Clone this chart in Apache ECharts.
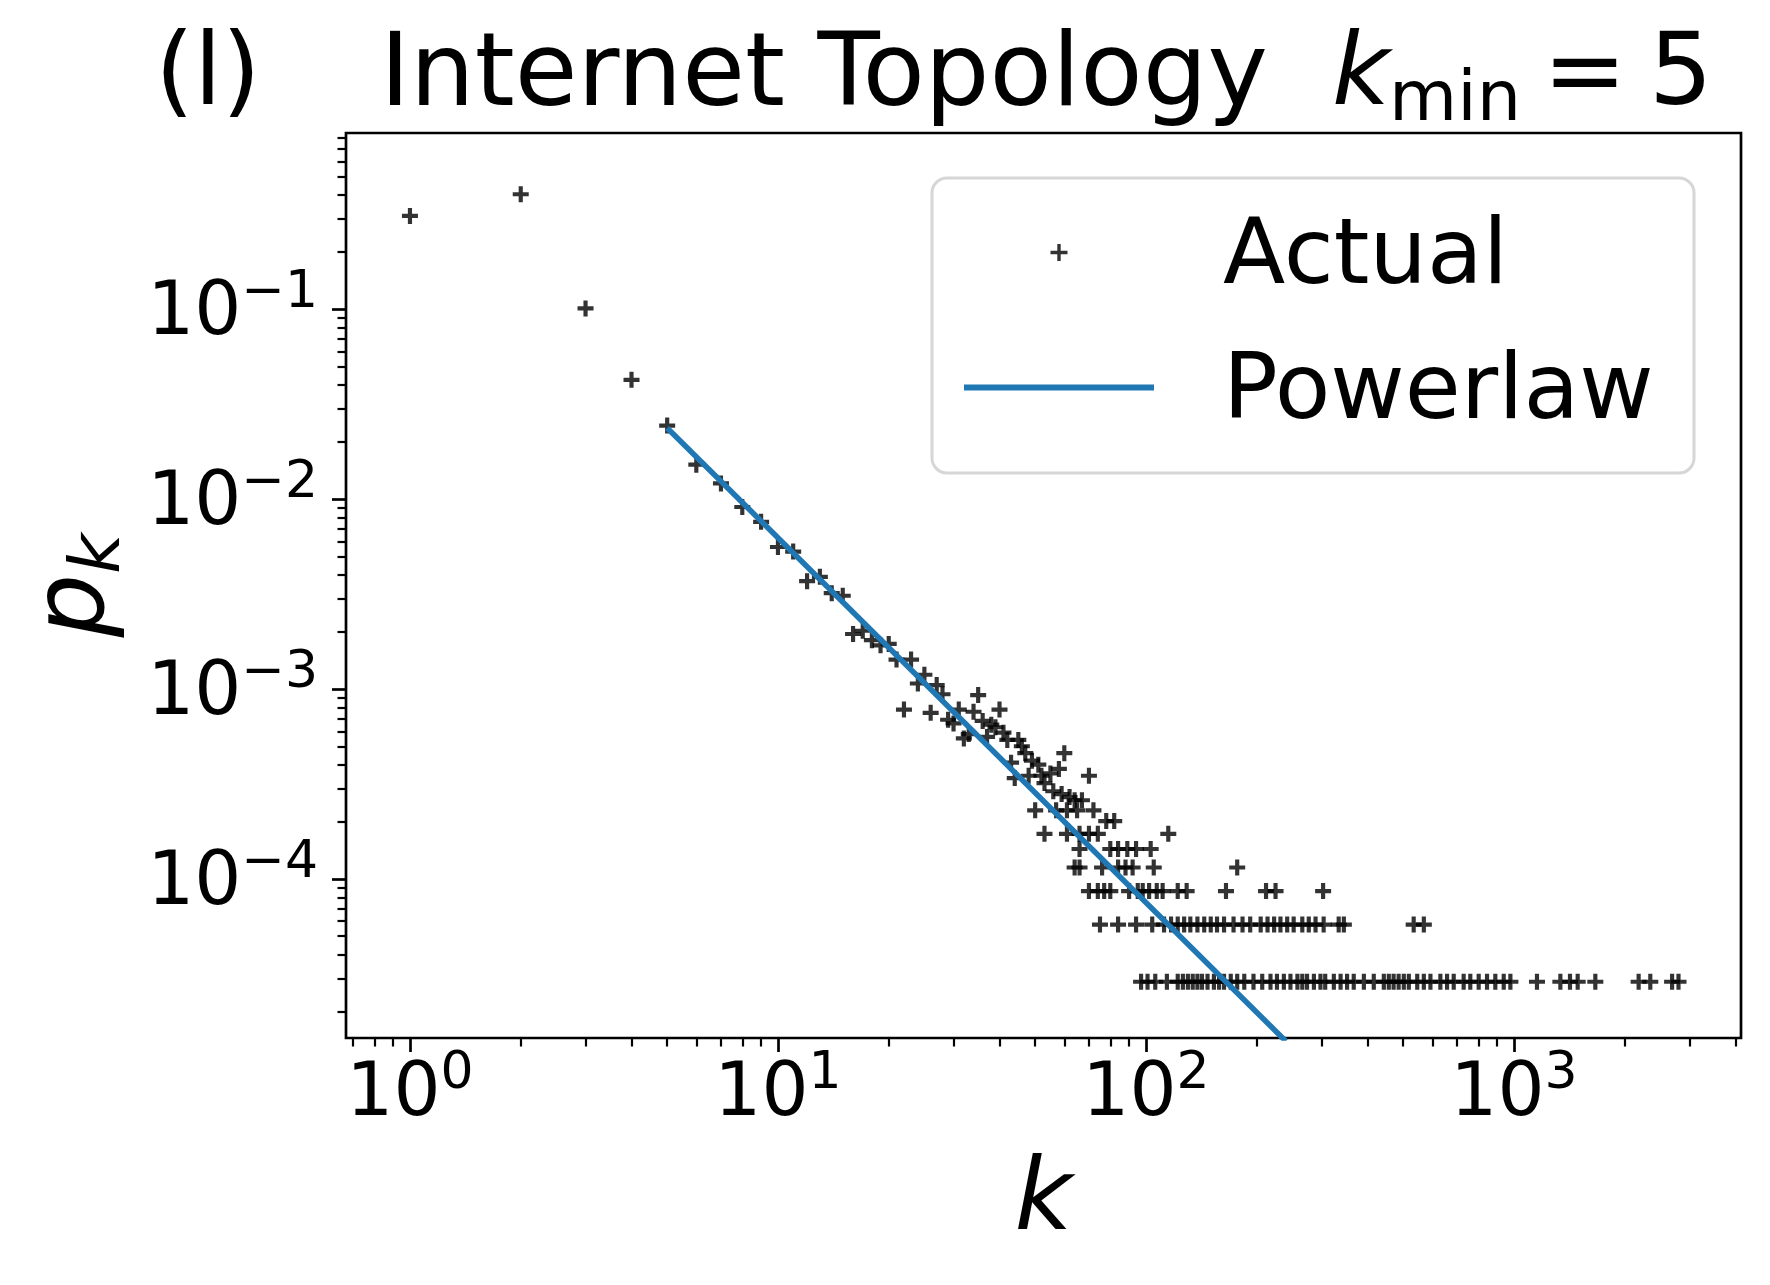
<!DOCTYPE html>
<html>
<head>
<meta charset="utf-8">
<title>Internet Topology kmin = 5</title>
<script src="https://cdn.jsdelivr.net/npm/echarts@6.0.0/dist/echarts.min.js"></script>
<style>
  html, body { margin: 0; padding: 0; background: #fff; }
  #chart { width: 1770px; height: 1285px; }
</style>
</head>
<body>
<div id="chart"></div>
<script>
var FONT = 'DejaVu Sans';
var PLUS = 'path://M-1,-0.26L-0.26,-0.26L-0.26,-1L0.26,-1L0.26,-0.26L1,-0.26L1,0.26L0.26,0.26L0.26,1L-0.26,1L-0.26,0.26L-1,0.26Z';
var PLUS_LEGEND = 'path://M-1,-0.2L-0.2,-0.2L-0.2,-1L0.2,-1L0.2,-0.2L1,-0.2L1,0.2L0.2,0.2L0.2,1L-0.2,1L-0.2,0.2L-1,0.2Z';
var LINE_LEGEND = 'path://M0,0L190,0L190,6L0,6Z';

// degrees read one by one (head of the distribution)
var degreeK = [1, 2, 3, 4, 5, 6, 7, 8, 9, 10, 11, 12, 13, 14, 15, 16, 17, 18, 19, 20,
  21, 22, 23, 24, 25, 26, 27, 28, 29, 30, 31, 32, 33, 34, 35, 36, 37, 38, 39, 40,
  41, 42, 43, 44, 45, 46, 47, 48, 49, 51, 52, 53, 55, 56, 58, 59, 60, 62, 64, 67, 70];
var degreeP = [0.31, 0.403, 0.101, 0.0425, 0.0244, 0.0152, 0.0121, 0.0091, 0.0076, 0.0056,
  0.0053, 0.0037, 0.0039, 0.0032, 0.0031, 0.00195, 0.00203, 0.00181, 0.0017, 0.00173,
  0.00143, 0.00078, 0.00143, 0.00107, 0.00119, 0.00075, 0.00105, 0.00094, 0.00069, 0.00066,
  0.00078, 0.00055, 0.00058, 0.00076, 0.00093, 0.00068, 0.00056, 0.00065, 0.00063, 0.00078,
  0.00059, 0.00054, 0.00041, 0.00034, 0.00054, 0.0005, 0.00046, 0.00035, 0.00042, 0.0004,
  0.00035, 0.00032, 0.00036, 0.00029, 0.00038, 0.00028, 0.00046, 0.00027, 0.00026, 0.00026, 0.00035];

// tail: horizontal rows of equal probability
var tailLevels = [2.88e-5, 5.76e-5, 8.64e-5, 1.15e-4, 1.44e-4, 1.73e-4, 2.02e-4, 2.30e-4];
var tailRows = [
  [97, 101, 106, 114, 122, 126, 130, 134, 138, 142, 147, 153, 158, 163, 170, 177, 185, 196, 207, 218,
   227, 237, 247, 258, 266, 274, 286, 298, 307, 324, 338, 352, 367, 391, 416, 443, 457, 471, 486, 502,
   518, 546, 569, 593, 631, 658, 686, 730, 761, 802, 845, 890, 938, 978, 1155, 1337, 1420, 1490, 1664,
   2182, 2347, 2690, 2800],
  [75, 84, 94, 104, 112, 117, 122, 127, 132, 138, 144, 150, 156, 163, 173, 183, 192, 205, 214, 223,
   232, 242, 252, 266, 277, 289, 304, 334, 345, 534, 569],
  [70, 74, 77, 80, 90, 95, 98, 102, 107, 111, 122, 129, 165, 212, 225, 303],
  [64, 66, 76, 84, 88, 92, 105, 177],
  [66, 80, 84, 89, 94, 103],
  [53, 61, 66, 70, 74, 115],
  [78, 82],
  [50, 57, 61, 65, 72]
];

// fitted power law, ends of the drawn segment
var powerlawK = [5, 240];
var powerlawP = [0.0237, 1.40e-5];

// ticks
var xMajorTicks = [1, 10, 100, 1000];
var xTickExp = ['0', '1', '2', '3'];
var xMinorTicks = [0.7, 0.8, 0.9, 2, 3, 4, 5, 6, 7, 8, 9, 20, 30, 40, 50, 60, 70, 80, 90,
  200, 300, 400, 500, 600, 700, 800, 900, 2000, 3000, 4000];
var yMajorTicks = [1e-4, 1e-3, 1e-2, 1e-1];
var yTickExp = ['\u22124', '\u22123', '\u22122', '\u22121'];
var yMinorTicks = [2e-5, 3e-5, 4e-5, 5e-5, 6e-5, 7e-5, 8e-5, 9e-5,
  2e-4, 3e-4, 4e-4, 5e-4, 6e-4, 7e-4, 8e-4, 9e-4,
  2e-3, 3e-3, 4e-3, 5e-3, 6e-3, 7e-3, 8e-3, 9e-3,
  0.02, 0.03, 0.04, 0.05, 0.06, 0.07, 0.08, 0.09,
  0.2, 0.3, 0.4, 0.5, 0.6, 0.7, 0.8];

var X_MIN = 0.6702, X_MAX = 4140;
var Y_MIN = 1.456e-5, Y_MAX = 0.847;

function expLabel(ticks, exps) {
  return function (v) {
    for (var i = 0; i < ticks.length; i++) {
      if (Math.abs(Math.log10(v) - Math.log10(ticks[i])) < 1e-6) {
        return '{b|10}{e|' + exps[i] + '}';
      }
    }
    return '';
  };
}

var tickRich = {
  b: { fontFamily: FONT, fontSize: 74, lineHeight: 74, color: '#000' },
  e: { fontFamily: FONT, fontSize: 52, lineHeight: 52, color: '#000', padding: [0, 0, 44, 0] }
};

var actualData = [];
for (var i = 0; i < degreeK.length; i++) {
  actualData.push([degreeK[i], degreeP[i]]);
}
tailRows.forEach(function (row, r) {
  row.forEach(function (k) {
    actualData.push([k, tailLevels[r]]);
  });
});

var powerlawData = powerlawK.map(function (k, j) { return [k, powerlawP[j]]; });

function majorAxis(min, max) {
  return {
    type: 'log', logBase: 10, min: min, max: max,
    axisLine: { show: false },
    splitLine: { show: false },
    axisTick: { show: true, inside: false, length: 14, lineStyle: { color: '#000', width: 2.7 } }
  };
}
function minorAxis(min, max, ticks, pos) {
  return {
    type: 'log', logBase: 10, min: min, max: max, position: pos,
    axisLine: { show: false },
    splitLine: { show: false },
    axisLabel: { show: false },
    axisTick: { show: true, inside: false, length: 8.5, customValues: ticks,
      lineStyle: { color: '#000', width: 2.2 } }
  };
}

var xMain = majorAxis(X_MIN, X_MAX);
xMain.position = 'bottom';
xMain.axisTick.customValues = xMajorTicks;
xMain.axisLabel = { show: true, margin: 21, customValues: xMajorTicks,
  formatter: expLabel(xMajorTicks, xTickExp), rich: tickRich };
xMain.name = 'k';
xMain.nameLocation = 'middle';
xMain.nameGap = 115;
xMain.nameTextStyle = { fontFamily: FONT, fontSize: 100, fontStyle: 'italic', color: '#000' };

var yMain = majorAxis(Y_MIN, Y_MAX);
yMain.position = 'left';
yMain.axisTick.customValues = yMajorTicks;
yMain.axisLabel = { show: true, margin: 28, customValues: yMajorTicks, padding: [12, 0, 0, 0],
  formatter: expLabel(yMajorTicks, yTickExp), rich: tickRich };
yMain.name = '{p|p}{s|k}';
yMain.nameLocation = 'middle';
yMain.nameRotate = 90;
yMain.nameGap = 200;
yMain.nameTextStyle = {
  rich: {
    p: { fontFamily: FONT, fontSize: 100, fontStyle: 'italic', lineHeight: 100, color: '#000' },
    s: { fontFamily: FONT, fontSize: 70, fontStyle: 'italic', lineHeight: 70, color: '#000', padding: [48, 0, 0, 0] }
  }
};

function titleText(x, y, text, size, italic) {
  return {
    type: 'text', z: 10,
    style: {
      x: x, y: y, text: text, fill: '#000',
      font: (italic ? 'italic ' : '') + size + 'px "DejaVu Sans"',
      align: 'left', verticalAlign: 'middle',
      textAlign: 'left', textVerticalAlign: 'middle'
    }
  };
}

var chart = echarts.init(document.getElementById('chart'));
chart.setOption({
  animation: false,
  backgroundColor: '#fff',
  grid: { left: 346, top: 133, width: 1395, height: 905, show: true,
    borderColor: '#000', borderWidth: 2.7, backgroundColor: 'transparent' },
  xAxis: [xMain, minorAxis(X_MIN, X_MAX, xMinorTicks, 'bottom')],
  yAxis: [yMain, minorAxis(Y_MIN, Y_MAX, yMinorTicks, 'left')],
  legend: {
    orient: 'vertical', left: 964, top: 200, padding: 0, itemGap: 30,
    itemWidth: 190, itemHeight: 17, selectedMode: false, z: 4,
    data: [{ name: 'Actual', icon: PLUS_LEGEND }, { name: 'Powerlaw', icon: LINE_LEGEND }],
    formatter: function (name) { return '{t|' + name + '}'; },
    textStyle: {
      color: '#000', padding: [0, 0, 0, 64],
      rich: { t: { fontFamily: FONT, fontSize: 91, lineHeight: 90, color: '#000', padding: [14, 0, 0, 0] } }
    }
  },
  graphic: [
    { type: 'rect', z: 3, shape: { x: 932, y: 178, width: 762, height: 295, r: 15 },
      style: { fill: 'rgba(255,255,255,0.8)', stroke: '#d6d6d6', lineWidth: 3 } },
    titleText(155, 78, '(l)', 100, false),
    titleText(380, 78, 'Internet Topology', 102, false),
    titleText(1332, 78, 'k', 100, true),
    titleText(1389, 102, 'min', 70, false),
    titleText(1543, 78, '=', 100, false),
    titleText(1649, 78, '5', 100, false)
  ],
  series: [
    {
      name: 'Actual', type: 'scatter', data: actualData,
      symbol: PLUS, symbolSize: 16,
      itemStyle: { color: '#000' }, z: 2
    },
    {
      name: 'Powerlaw', type: 'line', data: powerlawData,
      symbol: 'none', clip: true,
      lineStyle: { color: '#1f77b4', width: 5.5 },
      itemStyle: { color: '#1f77b4' }, z: 3
    }
  ]
});
</script>
</body>
</html>
